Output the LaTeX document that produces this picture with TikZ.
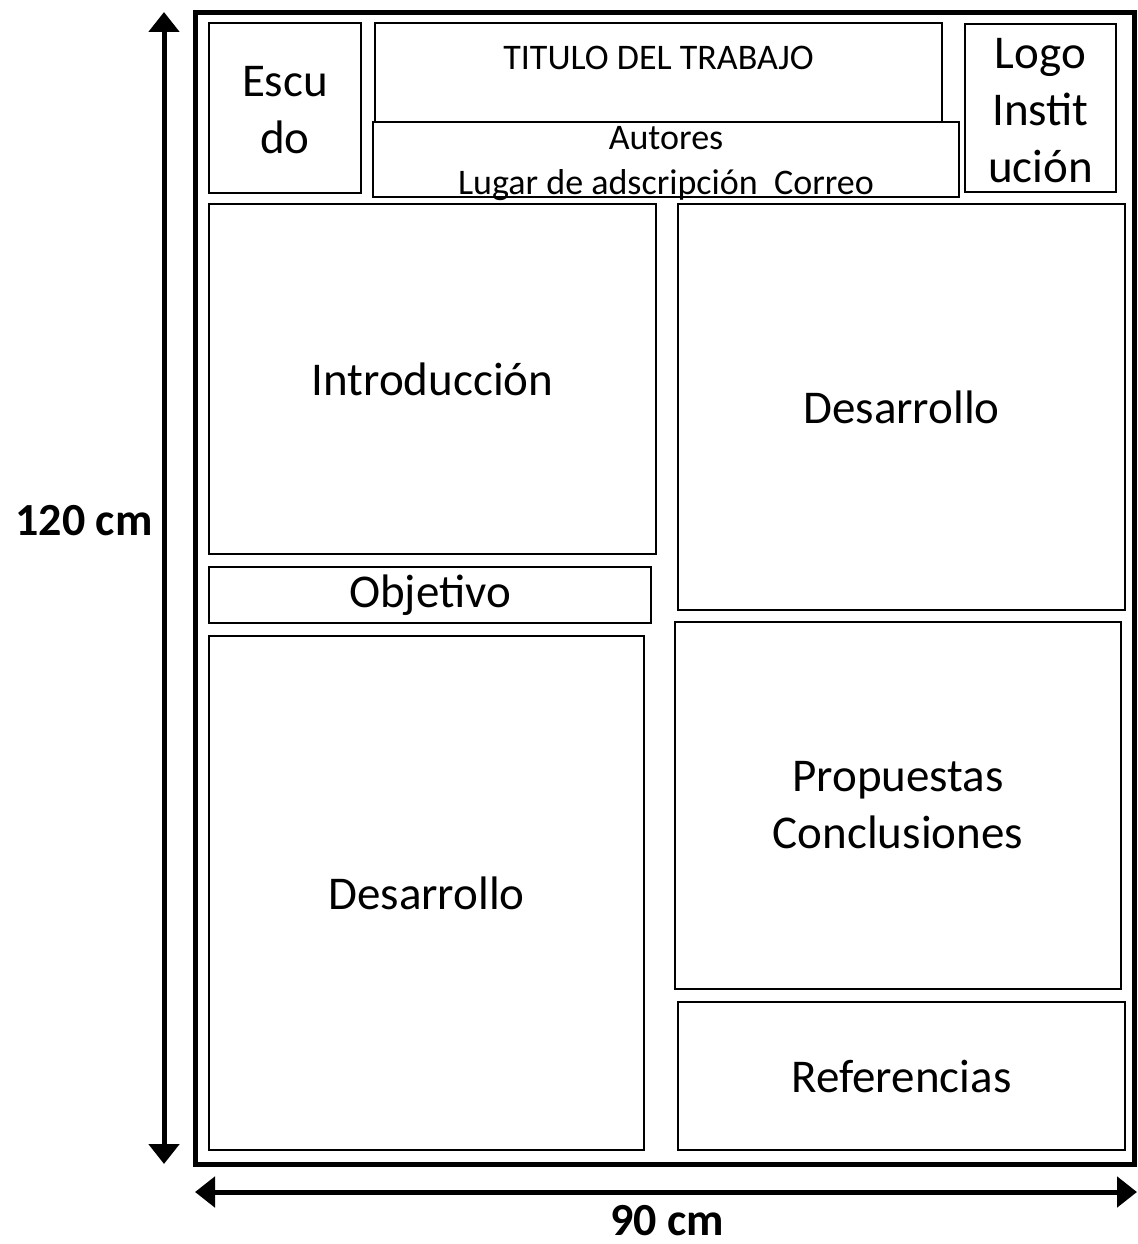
\documentclass[tikz,border=0pt]{standalone}
\usepackage{fontspec}
\setmainfont{Carlito}
\usetikzlibrary{arrows.meta}

\begin{document}
\begin{tikzpicture}[x=1pt, y=-1pt,
  caja/.style={draw, line width=2pt, inner sep=0pt, align=center},
  grande/.style={font=\fontsize{47}{57}\selectfont},
  chica/.style={font=\fontsize{36}{45}\selectfont},
  medida/.style={font=\fontsize{46}{55}\selectfont\bfseries, inner sep=0pt},
  cota/.style={line width=5pt, {Triangle[width=30pt,length=20pt]}-{Triangle[width=30pt,length=20pt]}}]
\useasboundingbox (0,0) rectangle (1137,1244);
% marco del cartel
\draw[line width=5pt] (195,12.5) rectangle (1134,1164);
% encabezado
\node[caja, minimum width=152, minimum height=169] (escudo) at (285,108) {};
\node[grande, align=center] (textoescudo) at (285,110) {Escu\\do};
\node[caja, minimum width=567, minimum height=99] (titulo) at (658.5,72.5) {};
\node[chica] (textotitulo) at (658.5,58) {TITULO DEL TRABAJO};
\node[caja, minimum width=586, minimum height=75] (autores) at (666,159.5) {};
\node[chica, align=center] (textoautores) at (666,164) {Autores\\Lugar de adscripción\ \ Correo};
\node[caja, minimum width=151, minimum height=168] (logo) at (1040.5,108) {};
\node[grande, align=center] (textologo) at (1040.5,111) {Logo\\Instit\\ución};
% columna izquierda
\node[caja, grande, minimum width=447, minimum height=350] (intro) at (432.5,379) {Introducción};
\node[caja, grande, minimum width=442, minimum height=56] (objetivo) at (430,595) {Objetivo};
\node[caja, grande, minimum width=435, minimum height=514] (desizq) at (426.5,893) {Desarrollo};
% columna derecha
\node[caja, grande, minimum width=447, minimum height=406] (desder) at (901.5,407) {Desarrollo};
\node[caja, grande, minimum width=446, minimum height=367] (propuestas) at (898,805.5) {Propuestas\\Conclusiones};
\node[caja, grande, minimum width=447, minimum height=148] (referencias) at (901.5,1076) {Referencias};
% cotas
\coordinate (arriba) at (164,12);
\coordinate (abajo) at (164,1164);
\coordinate (izq) at (195,1192);
\coordinate (der) at (1137,1192);
\draw[cota] (arriba) -- (abajo);
\draw[cota] (izq) -- (der);
\node[medida] (alto) at (84,521) {120 cm};
\node[medida] (ancho) at (667,1221) {90 cm};
\end{tikzpicture}
\end{document}
